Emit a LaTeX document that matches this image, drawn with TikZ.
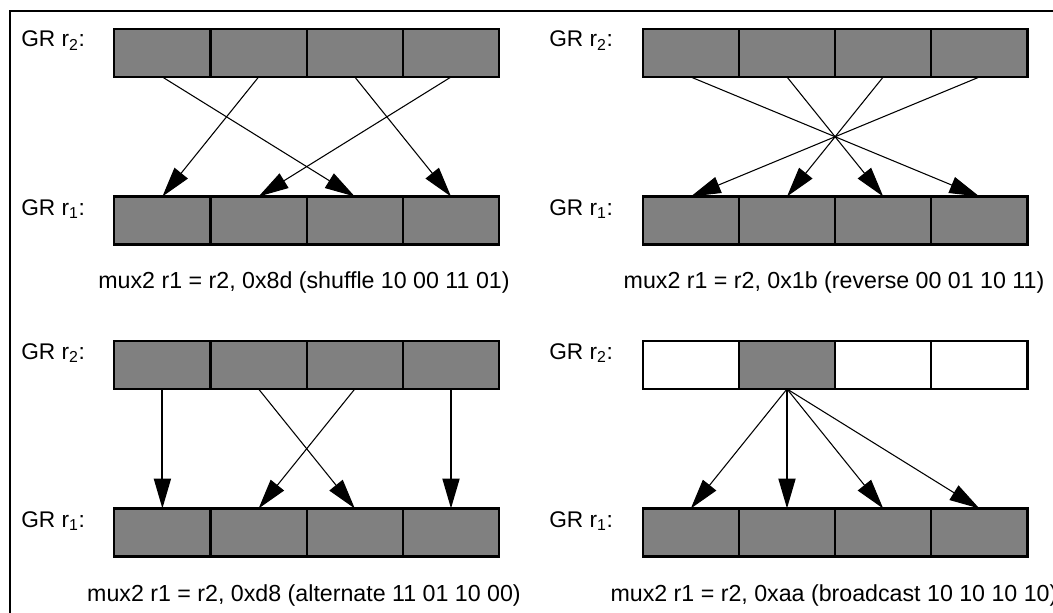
\documentclass[tikz,border=0pt]{standalone}
\usepackage{fontspec}
\setmainfont{Liberation Sans}
\usetikzlibrary{arrows.meta}
\definecolor{cellgray}{HTML}{808080}
\tikzset{
  cell/.style={draw=black, line width=1.6pt, fill=cellgray, minimum width=72.15pt, minimum height=36pt, inner sep=0pt, outer sep=0pt},
  emptycell/.style={cell, fill=white},
  conn/.style={draw=black, line width=0.8pt, -{Triangle[length=22.5pt, width=12.75pt]}},
  vconn/.style={conn, line width=1.5pt},
  lbl/.style={font=\fontsize{17pt}{20pt}\selectfont, anchor=base west, inner sep=0pt},
  captext/.style={font=\fontsize{17.4pt}{20pt}\selectfont, anchor=base, inner sep=0pt},
  frame/.style={draw=black, line width=0.8pt}
}
\begin{document}
\begin{tikzpicture}[x=0.75pt, y=-0.75pt]
\useasboundingbox (0,0) rectangle (1053,613);
\coordinate (fb) at (10,613);
\coordinate (fc) at (10,11);
\coordinate (fr) at (1053,11);
\draw[frame] (fb) -- (fc) -- (fr);
% registers
\foreach \p/\x/\y in {1/114.3/29, 2/642.7/29, 3/114.3/341, 4/642.7/341} {
  \foreach \i in {1,...,4} {
    \node[cell] (p\p t\i) at ({\x+(\i-0.5)*96.2}, {\y+24}) {};
    \node[cell] (p\p b\i) at ({\x+(\i-0.5)*96.2}, {\y+191.5}) {};
  }
}
% panel 4 top register: only cell 2 filled
\foreach \i in {1,3,4} {
  \node[emptycell] at (p4t\i) {};
}
% labels
\node[lbl] (l1t) at (21,47) {GR r\textsubscript{2}:};
\node[lbl] (l1b) at (21,215) {GR r\textsubscript{1}:};
\node[lbl] (l2t) at (549,47) {GR r\textsubscript{2}:};
\node[lbl] (l2b) at (549,215) {GR r\textsubscript{1}:};
\node[lbl] (l3t) at (21,359) {GR r\textsubscript{2}:};
\node[lbl] (l3b) at (21,527) {GR r\textsubscript{1}:};
\node[lbl] (l4t) at (549,359) {GR r\textsubscript{2}:};
\node[lbl] (l4b) at (549,527) {GR r\textsubscript{1}:};
% captions
\node[captext] (c1) at (304,288) {mux2 r1 = r2, 0x8d (shuffle 10 00 11 01)};
\node[captext] (c2) at (834,288) {mux2 r1 = r2, 0x1b (reverse 00 01 10 11)};
\node[captext] (c3) at (304,601) {mux2 r1 = r2, 0xd8 (alternate 11 01 10 00)};
\node[captext] (c4) at (834,601) {mux2 r1 = r2, 0xaa (broadcast 10 10 10 10)};
% panel 1: shuffle
\draw[conn] (p1t1.south) -- (p1b3.north);
\draw[conn] (p1t2.south) -- (p1b1.north);
\draw[conn] (p1t3.south) -- (p1b4.north);
\draw[conn] (p1t4.south) -- (p1b2.north);
% panel 2: reverse
\draw[conn] (p2t1.south) -- (p2b4.north);
\draw[conn] (p2t2.south) -- (p2b3.north);
\draw[conn] (p2t3.south) -- (p2b2.north);
\draw[conn] (p2t4.south) -- (p2b1.north);
% panel 3: alternate
\draw[vconn] (p3t1.south) -- (p3b1.north);
\draw[conn] (p3t2.south) -- (p3b3.north);
\draw[conn] (p3t3.south) -- (p3b2.north);
\draw[vconn] (p3t4.south) -- (p3b4.north);
% panel 4: broadcast
\draw[conn] (p4t2.south) -- (p4b1.north);
\draw[vconn] (p4t2.south) -- (p4b2.north);
\draw[conn] (p4t2.south) -- (p4b3.north);
\draw[conn] (p4t2.south) -- (p4b4.north);
\end{tikzpicture}
\end{document}
